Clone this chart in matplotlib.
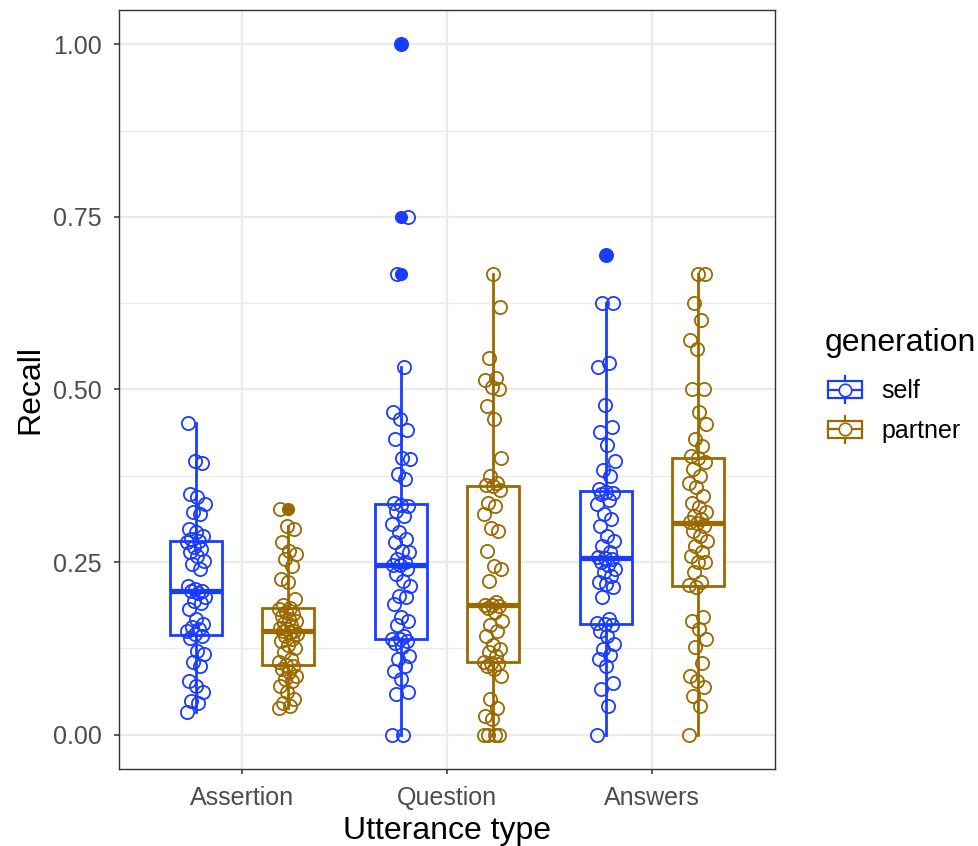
import numpy as np
import matplotlib
matplotlib.use("Agg")
import matplotlib.pyplot as plt
from matplotlib.lines import Line2D
from matplotlib.patches import Rectangle
from matplotlib.legend_handler import HandlerBase
from matplotlib.ticker import MultipleLocator

plt.rcParams["font.family"] = ["Liberation Sans", "DejaVu Sans"]

# ---- Data (recall per participant) ------------------------------------------
CATEGORIES = ["Assertion", "Question", "Answers"]
GROUPS     = ["self", "partner"]
COLORS     = {"self": "#1a3cff", "partner": "#9a6a00"}

assertion_self = [0.033, 0.045, 0.049, 0.062, 0.071, 0.077, 0.100, 0.105, 0.117, 0.121,
                  0.140, 0.143, 0.145, 0.150, 0.153, 0.156, 0.160, 0.168, 0.182, 0.190,
                  0.194, 0.199, 0.205, 0.208, 0.208, 0.211, 0.215, 0.240, 0.247, 0.252,
                  0.259, 0.265, 0.269, 0.272, 0.279, 0.280, 0.283, 0.288, 0.293, 0.298,
                  0.320, 0.322, 0.334, 0.344, 0.348, 0.393, 0.396, 0.452]
assertion_partner = [0.038, 0.042, 0.045, 0.052, 0.062, 0.071, 0.077, 0.081, 0.085, 0.091,
                     0.095, 0.099, 0.101, 0.105, 0.110, 0.120, 0.125, 0.129, 0.135, 0.139,
                     0.143, 0.146, 0.149, 0.150, 0.150, 0.153, 0.155, 0.158, 0.162, 0.165,
                     0.168, 0.172, 0.175, 0.178, 0.182, 0.183, 0.187, 0.197, 0.221, 0.225,
                     0.244, 0.254, 0.262, 0.266, 0.279, 0.298, 0.302, 0.327]
question_self = [0.000, 0.000, 0.059, 0.062, 0.081, 0.092, 0.100, 0.110, 0.114, 0.127,
                 0.133, 0.136, 0.138, 0.139, 0.143, 0.158, 0.165, 0.171, 0.189, 0.200,
                 0.201, 0.215, 0.223, 0.232, 0.240, 0.245, 0.246, 0.250, 0.255, 0.264,
                 0.266, 0.279, 0.283, 0.293, 0.305, 0.317, 0.324, 0.331, 0.333, 0.336,
                 0.370, 0.377, 0.399, 0.401, 0.428, 0.442, 0.457, 0.468, 0.533, 0.667,
                 0.750, 1.000]
question_partner = [0.000, 0.000, 0.000, 0.000, 0.023, 0.027, 0.038, 0.052, 0.085, 0.095,
                    0.100, 0.102, 0.104, 0.105, 0.114, 0.120, 0.124, 0.129, 0.143, 0.150,
                    0.158, 0.165, 0.178, 0.183, 0.186, 0.187, 0.188, 0.192, 0.223, 0.240,
                    0.244, 0.266, 0.295, 0.300, 0.319, 0.331, 0.336, 0.355, 0.360, 0.362,
                    0.365, 0.375, 0.401, 0.457, 0.476, 0.500, 0.503, 0.514, 0.517, 0.546,
                    0.620, 0.667]
answers_self = [0.000, 0.042, 0.066, 0.074, 0.100, 0.110, 0.115, 0.124, 0.131, 0.143,
                0.150, 0.158, 0.160, 0.161, 0.168, 0.200, 0.214, 0.218, 0.221, 0.230,
                0.235, 0.240, 0.245, 0.250, 0.254, 0.256, 0.257, 0.265, 0.273, 0.280,
                0.288, 0.302, 0.312, 0.320, 0.334, 0.340, 0.348, 0.350, 0.352, 0.356,
                0.374, 0.384, 0.396, 0.420, 0.438, 0.445, 0.478, 0.533, 0.539, 0.626,
                0.626, 0.695]
answers_partner = [0.000, 0.042, 0.056, 0.069, 0.077, 0.085, 0.103, 0.127, 0.139, 0.153,
                   0.165, 0.171, 0.214, 0.216, 0.221, 0.235, 0.250, 0.250, 0.258, 0.264,
                   0.273, 0.280, 0.288, 0.295, 0.302, 0.306, 0.308, 0.312, 0.317, 0.322,
                   0.330, 0.336, 0.346, 0.358, 0.365, 0.374, 0.385, 0.395, 0.400, 0.403,
                   0.418, 0.428, 0.450, 0.467, 0.500, 0.500, 0.558, 0.572, 0.601, 0.625,
                   0.667, 0.667]

DATA = {
    ("Assertion", "self"): assertion_self,
    ("Assertion", "partner"): assertion_partner,
    ("Question", "self"): question_self,
    ("Question", "partner"): question_partner,
    ("Answers", "self"): answers_self,
    ("Answers", "partner"): answers_partner,
}

DODGE   = 0.224
BOX_W   = 0.25
JITTER  = 0.045
GRID_C  = "#ebebeb"
DARK    = "#333333"


class BoxKey(HandlerBase):
    """ggplot-like boxplot legend key with a point inside."""
    def create_artists(self, legend, orig_handle, xdescent, ydescent,
                       width, height, fontsize, trans):
        col = orig_handle.get_color()
        x0, y0 = -xdescent, -ydescent
        cx, cy = x0 + width / 2, y0 + height / 2
        bh = height * 0.62
        box = Rectangle((x0, cy - bh / 2), width, bh, fill=False, ec=col,
                        lw=1.6, transform=trans)
        med = Line2D([x0, x0 + width], [cy, cy], color=col, lw=1.6, transform=trans)
        w1 = Line2D([cx, cx], [cy + bh / 2, y0 + height], color=col, lw=1.6, transform=trans)
        w2 = Line2D([cx, cx], [y0, cy - bh / 2], color=col, lw=1.6, transform=trans)
        pt = Line2D([cx], [cy], marker="o", ms=9, mfc="white", mec=col, mew=1.2,
                    ls="none", transform=trans)
        return [box, med, w1, w2, pt]


fig = plt.figure(figsize=(9.79, 8.46), dpi=100)
ax = fig.add_axes([119 / 979, 1 - 769 / 846, (775 - 119) / 979, (769 - 10) / 846])

for ci, cat in enumerate(CATEGORIES):
    for gi, grp in enumerate(GROUPS):
        vals = np.array(DATA[(cat, grp)])
        pos = ci + 1 + (-DODGE if gi == 0 else DODGE)
        col = COLORS[grp]
        ax.boxplot(vals, positions=[pos], widths=BOX_W, whis=1.5,
                   showcaps=False, manage_ticks=False, patch_artist=True,
                   boxprops=dict(facecolor="white", edgecolor=col, lw=2.0),
                   medianprops=dict(color=col, lw=3.8, solid_capstyle="butt"),
                   whiskerprops=dict(color=col, lw=2.0),
                   flierprops=dict(marker="o", markersize=9.5, markerfacecolor=col,
                                   markeredgecolor=col, markeredgewidth=0),
                   zorder=2)
        # deterministic jitter around the box centre
        k = np.arange(len(vals))
        jit = (((k * 0.6180339887) % 1.0) - 0.5) * 2 * JITTER
        ax.plot(pos + jit, vals, ls="none", marker="o", markersize=9.5,
                mfc="none", mec=col, mew=1.3, zorder=3)

ax.set_xlim(0.4, 3.6)
ax.set_ylim(-0.05, 1.05)
ax.set_xticks([1, 2, 3])
ax.set_xticklabels(CATEGORIES)
ax.yaxis.set_major_locator(MultipleLocator(0.25))
ax.yaxis.set_minor_locator(MultipleLocator(0.125))
ax.set_yticklabels([f"{v:.2f}" for v in ax.get_yticks()])
ax.set_ylim(-0.05, 1.05)

ax.grid(True, which="major", color=GRID_C, lw=1.7, zorder=0)
ax.grid(True, which="minor", axis="y", color=GRID_C, lw=0.9, zorder=0)
ax.set_axisbelow(True)
ax.tick_params(axis="both", which="major", length=3.5, width=1.1, color=DARK,
               labelsize=18, labelcolor="#4d4d4d", pad=9)
ax.tick_params(axis="y", which="minor", length=0)
for sp in ax.spines.values():
    sp.set_color(DARK)
    sp.set_linewidth(1.0)

ax.set_xlabel("Utterance type", fontsize=23, labelpad=4)
ax.set_ylabel("Recall", fontsize=23, labelpad=5)

# legend: title drawn separately to get ggplot-like spacing
fig.text(825 / 979, 1 - 343 / 846, "generation", fontsize=23, va="center", ha="left")
handles = [Line2D([0], [0], color=COLORS[g], label=g) for g in GROUPS]
fig.legend(handles=handles, loc="upper left",
           bbox_to_anchor=(828 / 979, 1 - 376 / 846), frameon=False,
           fontsize=18, handler_map={Line2D: BoxKey()},
           handlelength=1.35, handleheight=1.3, handletextpad=0.8,
           labelspacing=0.5, borderpad=0, borderaxespad=0)

fig.savefig("out.png", dpi=100)
